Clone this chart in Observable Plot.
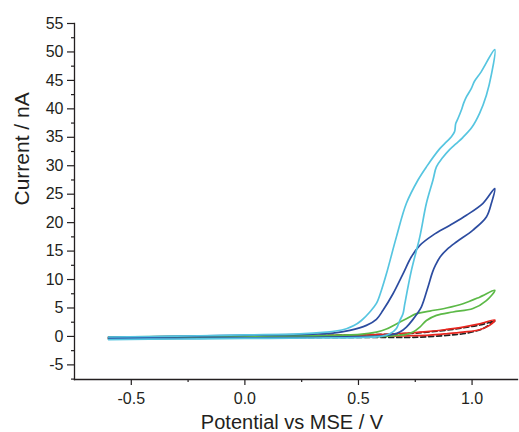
<!DOCTYPE html>
<html><head><meta charset="utf-8">
<script src="https://cdn.jsdelivr.net/npm/d3@7"></script>
<script src="https://cdn.jsdelivr.net/npm/@observablehq/plot@0.6"></script>
<style>body{margin:0;background:#fff;font-family:"Liberation Sans",Arial,sans-serif;}</style>
</head><body><div id="chart"></div>
<script>
// ---- data (potential V vs MSE, current nA), each a closed CV loop ----
const cyanV = [-0.6,-0.3,0,0.3,0.5,0.6,0.638,0.667,0.682,0.696,0.704,0.733,0.77,0.799,0.828,0.843,0.87,0.9,0.93,0.96,1.0,1.033,1.063,1.085,1.1,
               1.04,1.01,0.997,0.975,0.963,0.953,0.938,0.928,0.923,0.909,0.887,0.858,0.799,0.762,0.711,0.667,0.623,0.6,0.579,0.55,0.513,0.48,0.447,0.4,0.359,0.24,0,-0.3,-0.6];
const cyanI = [-0.55,-0.45,-0.35,-0.28,-0.2,0.0,0.45,1.4,2.8,4.0,5.75,11.6,17.5,23.4,27.5,29.8,31.4,32.8,33.9,35.0,36.8,39.2,42.4,46.0,50.4,
               46.5,44.8,43.6,42.1,41.0,39.8,38.3,37.4,36.0,35.1,34.2,33.0,29.8,27.5,23.4,17.5,11.0,8.0,5.8,4.3,2.8,1.9,1.36,0.95,0.76,0.44,0.26,0.05,-0.1];

const navyV = [-0.6,-0.3,0,0.3,0.5,0.6,0.652,0.682,0.711,0.74,0.755,0.777,0.806,0.826,0.84,0.86,0.89,0.931,1.004,1.063,1.085,1.1,
               1.048,0.975,0.901,0.828,0.77,0.733,0.696,0.652,0.608,0.579,0.535,0.462,0.388,0.3,0,-0.3,-0.6];
const navyI = [-0.45,-0.35,-0.25,-0.15,-0.05,0.1,0.35,0.76,1.64,3.0,3.8,5.2,8.7,11.3,12.6,14.0,15.3,16.6,18.7,21.0,23.4,26.0,
               23.4,21.3,19.5,17.8,16.0,14.0,11.0,7.5,4.6,3.0,1.94,1.06,0.58,0.4,0.2,0.0,-0.15];

const greenV = [-0.6,0,0.5,0.65,0.711,0.74,0.77,0.799,0.843,0.916,1.004,1.063,1.1,
                1.033,0.96,0.887,0.814,0.755,0.711,0.667,0.623,0.579,0.506,0.3,0,-0.6];
const greenI = [-0.4,-0.2,-0.05,0.1,0.35,0.76,1.64,2.8,3.7,4.3,4.9,6.3,8.1,
                6.9,5.75,5.0,4.46,4.0,3.1,2.2,1.3,0.76,0.35,0.15,0.1,-0.1];

const redV = [-0.6,0,0.5,0.74,0.814,0.887,0.96,1.033,1.077,1.1,
              1.033,0.96,0.887,0.814,0.74,0.667,0.5,0,-0.6];
const redI = [-0.3,-0.15,-0.05,0.12,0.23,0.47,0.76,1.17,1.94,2.9,
              2.2,1.64,1.23,0.88,0.65,0.47,0.25,0.05,-0.1];

const blackV = [-0.6,0,0.5,0.77,0.887,0.96,1.048,1.09,1.1,
                1.033,0.96,0.887,0.814,0.74,0.6,0,-0.6];
const blackI = [-0.35,-0.2,-0.15,-0.12,0.18,0.47,1.36,2.5,2.7,
                2.0,1.5,1.1,0.8,0.55,0.35,0.0,-0.15];

const xMajor = [-0.5, 0.0, 0.5, 1.0];
const xMinor = [-0.25, 0.25, 0.75];
const yMajor = [-5, 0, 5, 10, 15, 20, 25, 30, 35, 40, 45, 50, 55];
const yMinor = [-7.5, -2.5, 2.5, 7.5, 12.5, 17.5, 22.5, 27.5, 32.5, 37.5, 42.5, 47.5, 52.5];

const xTitle = "Potential vs MSE / V";
const yTitle = "Current / nA";

// ---- build ----
const toRows = (V, I) => V.map((v, k) => ({v, i: I[k]}));
const styles = [
  {rows: toRows(blackV, blackI), stroke: "#222222", dash: "5,3"},
  {rows: toRows(redV, redI), stroke: "#e8261f", dash: null},
  {rows: toRows(greenV, greenI), stroke: "#5cb947", dash: null},
  {rows: toRows(navyV, navyI), stroke: "#2c4ca0", dash: null},
  {rows: toRows(cyanV, cyanI), stroke: "#56c5e0", dash: null}
];

const chart = Plot.plot({
  width: 519,
  height: 432,
  marginLeft: 74,
  marginRight: 2,
  marginTop: 23,
  marginBottom: 53,
  style: {fontFamily: '"Liberation Sans", Arial, sans-serif', color: "#231f20", background: "#fff"},
  x: {domain: [-0.75, 1.2]},
  y: {domain: [-7.57, 55]},
  marks: [
    ...styles.map(s => Plot.line(s.rows, {x: "v", y: "i", stroke: s.stroke, strokeWidth: 1.7,
        strokeDasharray: s.dash, curve: "catmull-rom"})),
    Plot.frame({anchor: "left", stroke: "#231f20", strokeWidth: 1.3}),
    Plot.frame({anchor: "bottom", stroke: "#231f20", strokeWidth: 1.3}),
    Plot.axisX({ticks: xMajor, tickSize: 6, tickPadding: 7, fontSize: 16, tickFormat: d => d.toFixed(1), label: null, stroke: "#231f20", strokeWidth: 1.2}),
    Plot.axisX({ticks: xMinor, tickSize: 3, tickFormat: () => "", label: null, stroke: "#231f20", strokeWidth: 1.2}),
    Plot.axisY({ticks: yMajor, tickSize: 7, tickPadding: 4, fontSize: 16, tickFormat: d => String(d), label: null, stroke: "#231f20", strokeWidth: 1.2}),
    Plot.axisY({ticks: yMinor, tickSize: 3, tickFormat: () => "", label: null, stroke: "#231f20", strokeWidth: 1.2}),
    Plot.text([xTitle], {text: d => d, frameAnchor: "bottom", dy: 43, dx: -4, fontSize: 20, lineAnchor: "middle", fill: "#231f20"}),
    Plot.text([yTitle], {text: d => d, frameAnchor: "left", dx: -52, dy: 4, rotate: -90, fontSize: 21, fill: "#231f20"})
  ]
});
document.getElementById("chart").appendChild(chart);
</script>
</body></html>
